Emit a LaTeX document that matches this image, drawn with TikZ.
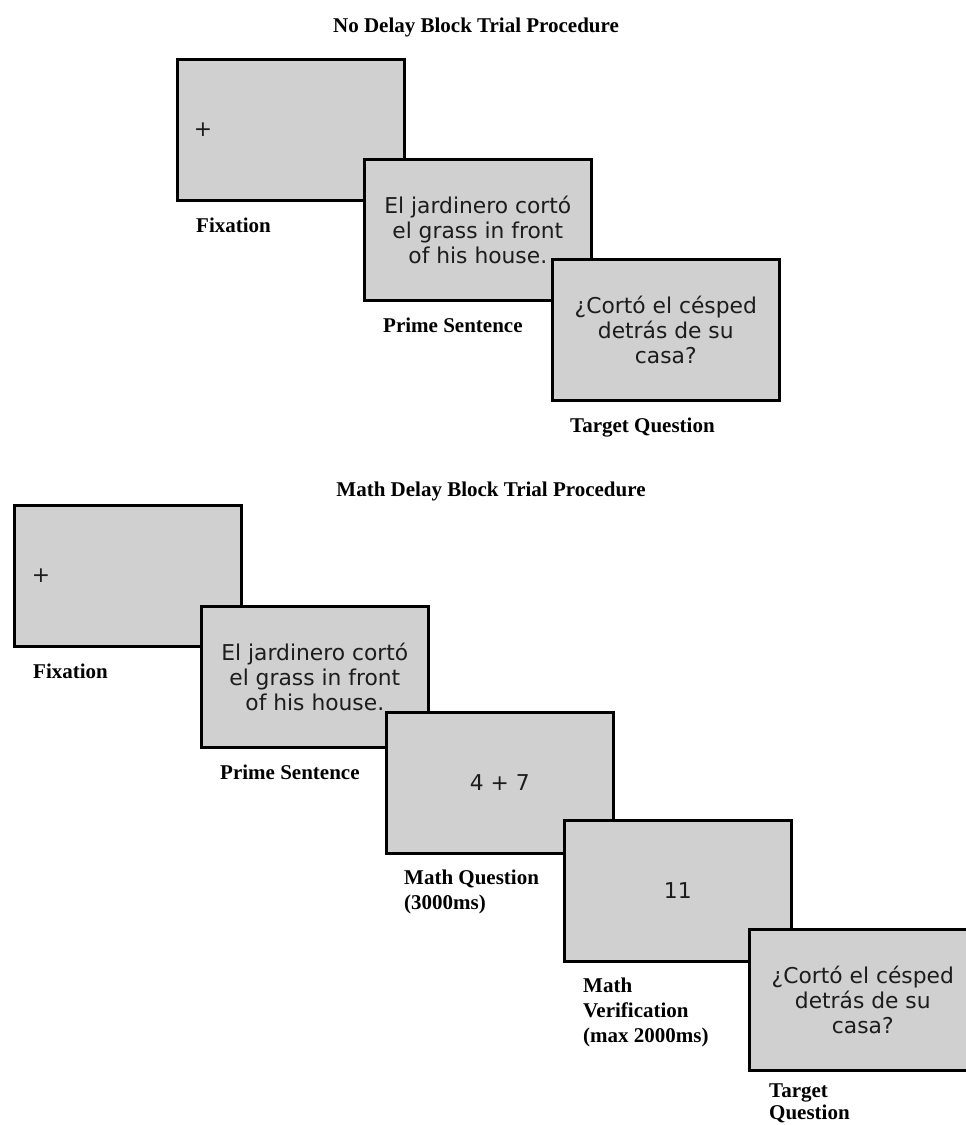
\documentclass[tikz,border=0pt]{standalone}
\usepackage{fontspec}
\setmainfont{Liberation Serif}
\newfontfamily\boxfont{DejaVu Sans}
\definecolor{screengray}{RGB}{208,208,208}
\definecolor{screentext}{RGB}{28,28,28}
\begin{document}
\begin{tikzpicture}[x=1pt,y=-1pt,
  scr/.style={draw=black, line width=2.6pt, fill=screengray, minimum width=227pt,
    minimum height=141pt, inner sep=0pt, anchor=north west, align=center,
    text=screentext, font=\boxfont\fontsize{21.8}{25}\selectfont},
  fix/.style={inner sep=0pt, text=screentext, font=\boxfont\fontsize{21.8}{25}\selectfont},
  lbl/.style={anchor=north west, inner sep=0pt, align=left,
    font=\bfseries\fontsize{21}{25}\selectfont},
  ttl/.style={anchor=base, inner sep=0pt, font=\bfseries\fontsize{21}{25}\selectfont}]
\useasboundingbox (0,0) rectangle (966,1125);
\clip (0,0) rectangle (966,1125);
\fill[white] (0,0) rectangle (966,1125);

% ---------- No Delay block ----------
\node[ttl] (t1) at (476,32) {No Delay Block Trial Procedure};

\node[scr] (a1) at (176,58) {};
\node[fix] (a1p) at ([xshift=27pt]a1.west) {+};
\node[lbl] (a1l) at ([xshift=20pt,yshift=-13.5pt]a1.south west) {\strut Fixation};

\node[scr] (a2) at (363,158) {El jardinero cortó\\el grass in front\\of his house.};
\node[lbl] (a2l) at ([xshift=20pt,yshift=-13.5pt]a2.south west) {\strut Prime Sentence};

\node[scr] (a3) at (551,258) {¿Cortó el césped\\detrás de su\\casa?};
\node[lbl] (a3l) at ([xshift=19pt,yshift=-13.5pt]a3.south west) {\strut Target Question};

% ---------- Math Delay block ----------
\node[ttl] (t2) at (491,496) {Math Delay Block Trial Procedure};

\node[scr] (b1) at (13,504) {};
\node[fix] (b1p) at ([xshift=28pt]b1.west) {+};
\node[lbl] (b1l) at ([xshift=20pt,yshift=-13.5pt]b1.south west) {\strut Fixation};

\node[scr] (b2) at (200,605) {El jardinero cortó\\el grass in front\\of his house.};
\node[lbl] (b2l) at ([xshift=20pt,yshift=-13.5pt]b2.south west) {\strut Prime Sentence};

\node[scr] (b3) at (385,711) {4 + 7};
\node[lbl] (b3l) at ([xshift=19pt,yshift=-12.5pt]b3.south west) {\strut Math Question\\(3000ms)};

\node[scr] (b4) at (563,819) {11};
\node[lbl] (b4l) at ([xshift=20pt,yshift=-12.5pt]b4.south west) {\strut Math\\Verification\\(max 2000ms)};

\node[scr] (b5) at (748,928) {¿Cortó el césped\\detrás de su\\casa?};
\node[lbl, font=\bfseries\fontsize{21}{22}\selectfont] (b5l) at ([xshift=21pt,yshift=-10pt]b5.south west) {\strut Target\\Question};
\end{tikzpicture}
\end{document}
